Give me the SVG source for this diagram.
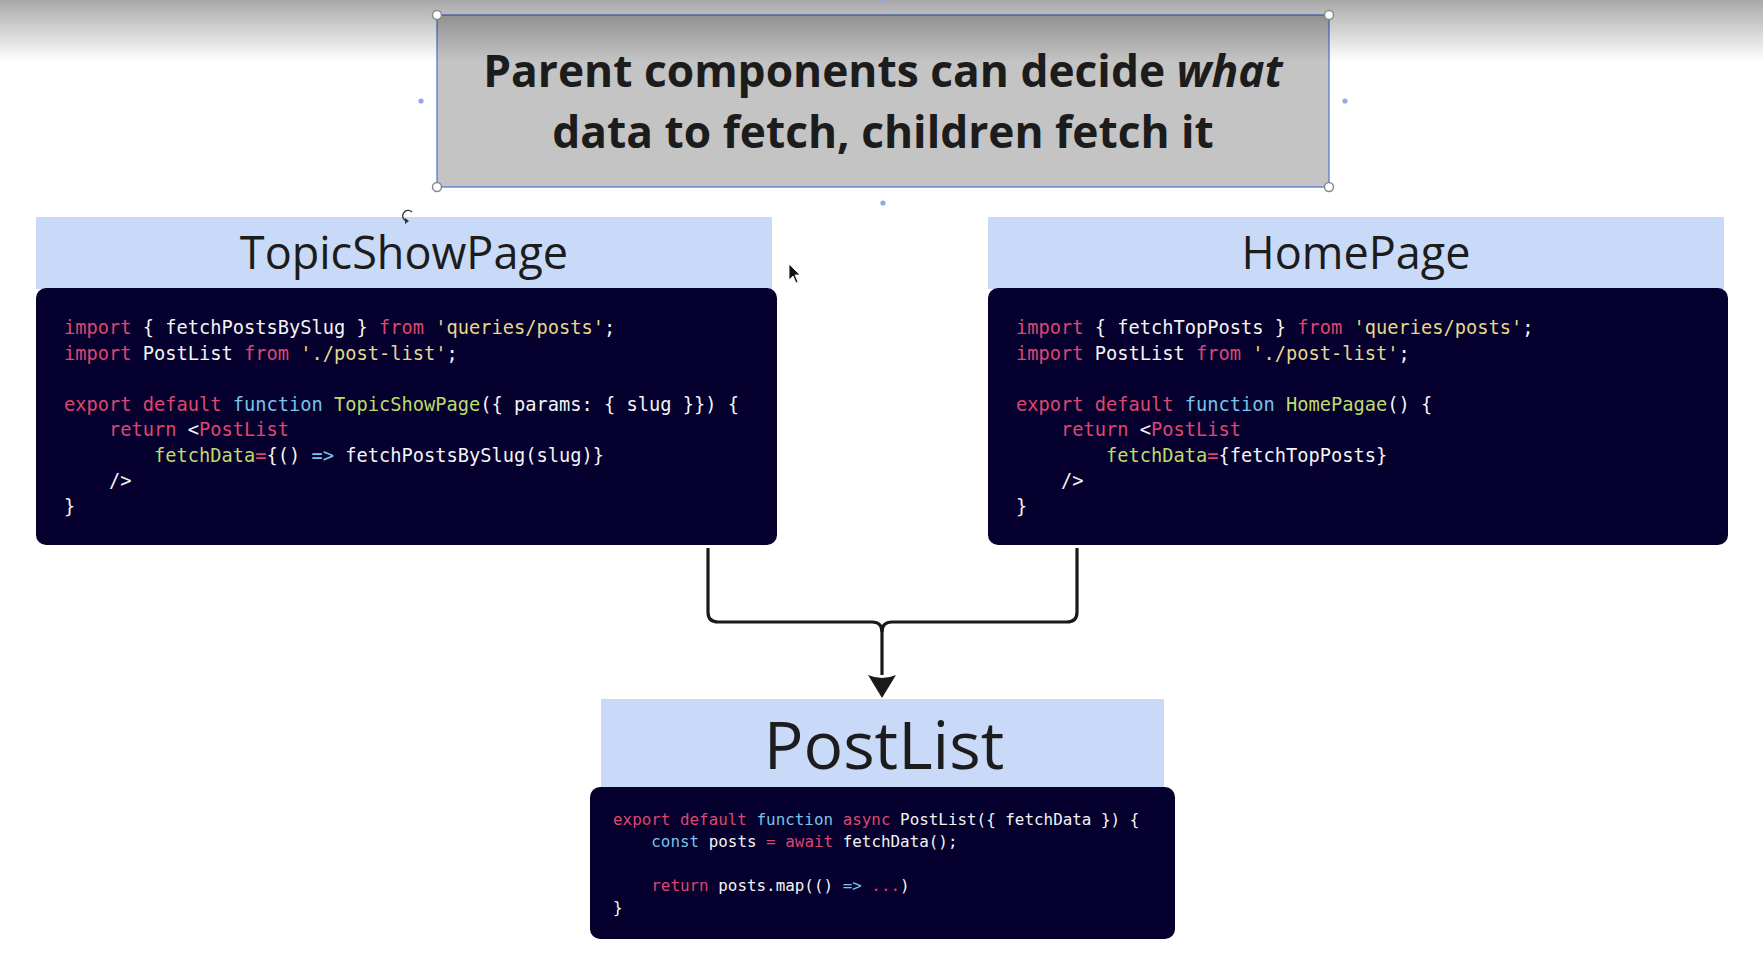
<svg xmlns="http://www.w3.org/2000/svg" width="1763" height="957" viewBox="0 0 1763 957">
<style>
.hdr{fill:#c9daf8}
.code{fill:#05002d}
.ht{font-family:"Open Sans","Noto Sans",sans-serif;fill:#1c1c1c;text-anchor:middle}
.mono{font-family:"DejaVu Sans Mono","Liberation Mono",monospace;fill:#f4f4f4}
.k{fill:#df4670}
.b{fill:#78c4ea}
.g{fill:#bfdc6a}
.s{fill:#e3d98c}
.conn{fill:none;stroke:#1a1a1a;stroke-width:3.2}
.handle{fill:#fff;stroke:#8a8a8a;stroke-width:1.5}
.dot{fill:#93aae8}
</style>
<defs>
<linearGradient id="topshade" x1="0" y1="0" x2="0" y2="1">
<stop offset="0" stop-color="#000" stop-opacity="0.34"/>
<stop offset="1" stop-color="#000" stop-opacity="0"/>
</linearGradient>
<marker id="arrow" markerUnits="userSpaceOnUse" viewBox="-1 -15 25 30" markerWidth="25" markerHeight="30" refX="0" refY="0" orient="auto">
<path d="M0,-14 Q6,0 0,14 L23,0 Z" fill="#1a1a1a"/>
</marker>
</defs>
<rect width="1763" height="957" fill="#ffffff"/>

<g id="title">
<rect x="437" y="15" width="892" height="172" fill="#c4c4c4" stroke="#4a72d0" stroke-width="1.2"/>
<text class="ht" x="883" y="87" font-size="44.3" font-weight="bold" fill="#1a1a1a">Parent components can decide <tspan font-style="italic">what</tspan></text>
<text class="ht" x="883" y="148" font-size="44.3" font-weight="bold" fill="#1a1a1a">data to fetch, children fetch it</text>
</g>

<rect x="0" y="0" width="1763" height="62" fill="url(#topshade)"/>

<g id="topicshowpage">
<rect class="hdr" x="36" y="217" width="736" height="72"/>
<text class="ht" x="404" y="269" font-size="45">TopicShowPage</text>
<rect class="code" x="36" y="288" width="741" height="257" rx="10"/>
<text class="mono" font-size="18.7" xml:space="preserve">
<tspan x="64" y="334"><tspan class="k">import</tspan> { fetchPostsBySlug } <tspan class="k">from</tspan> <tspan class="s">'queries/posts'</tspan>;</tspan>
<tspan x="64" y="359.5"><tspan class="k">import</tspan> PostList <tspan class="k">from</tspan> <tspan class="s">'./post-list'</tspan>;</tspan>
<tspan x="64" y="410.5"><tspan class="k">export default</tspan> <tspan class="b">function</tspan> <tspan class="g">TopicShowPage</tspan>({ params: { slug }}) {</tspan>
<tspan x="64" y="436">    <tspan class="k">return</tspan> &lt;<tspan class="k">PostList</tspan></tspan>
<tspan x="64" y="461.5">        <tspan class="g">fetchData</tspan><tspan class="k">=</tspan>{() <tspan class="b">=&gt;</tspan> fetchPostsBySlug(slug)}</tspan>
<tspan x="64" y="487">    /&gt;</tspan>
<tspan x="64" y="512.5">}</tspan>
</text>
</g>

<g id="homepage">
<rect class="hdr" x="988" y="217" width="736" height="72"/>
<text class="ht" x="1356" y="269" font-size="45">HomePage</text>
<rect class="code" x="988" y="288" width="740" height="257" rx="10"/>
<text class="mono" font-size="18.7" xml:space="preserve">
<tspan x="1016" y="334"><tspan class="k">import</tspan> { fetchTopPosts } <tspan class="k">from</tspan> <tspan class="s">'queries/posts'</tspan>;</tspan>
<tspan x="1016" y="359.5"><tspan class="k">import</tspan> PostList <tspan class="k">from</tspan> <tspan class="s">'./post-list'</tspan>;</tspan>
<tspan x="1016" y="410.5"><tspan class="k">export default</tspan> <tspan class="b">function</tspan> <tspan class="g">HomePagae</tspan>() {</tspan>
<tspan x="1016" y="436">    <tspan class="k">return</tspan> &lt;<tspan class="k">PostList</tspan></tspan>
<tspan x="1016" y="461.5">        <tspan class="g">fetchData</tspan><tspan class="k">=</tspan>{fetchTopPosts}</tspan>
<tspan x="1016" y="487">    /&gt;</tspan>
<tspan x="1016" y="512.5">}</tspan>
</text>
</g>

<g id="postlist">
<rect class="hdr" x="601" y="699" width="563" height="88"/>
<text class="ht" x="884" y="769" font-size="66">PostList</text>
<rect class="code" x="590" y="787" width="585" height="152" rx="10"/>
<text class="mono" font-size="15.9" xml:space="preserve">
<tspan x="613" y="825"><tspan class="k">export default</tspan> <tspan class="b">function</tspan> <tspan class="k">async</tspan> PostList({ fetchData }) {</tspan>
<tspan x="613" y="847">    <tspan class="b">const</tspan> posts <tspan class="k">=</tspan> <tspan class="k">await</tspan> fetchData();</tspan>
<tspan x="613" y="891">    <tspan class="k">return</tspan> posts.map(() <tspan class="b">=&gt;</tspan> <tspan class="k">...</tspan>)</tspan>
<tspan x="613" y="913">}</tspan>
</text>
</g>

<g id="connectors">
<path class="conn" d="M708,548 V612 Q708,622 718,622 H872 Q882,622 882,632 V675" marker-end="url(#arrow)"/>
<path class="conn" d="M1077,548 V612 Q1077,622 1067,622 H892 Q882,622 882,632"/>
</g>

<g id="selection">
<circle class="handle" cx="437" cy="15" r="4.5"/>
<circle class="handle" cx="1329" cy="15" r="4.5"/>
<circle class="handle" cx="437" cy="187" r="4.5"/>
<circle class="handle" cx="1329" cy="187" r="4.5"/>
<circle class="dot" cx="421" cy="101" r="2.6"/>
<circle class="dot" cx="1345" cy="101" r="2.6"/>
<circle class="dot" cx="883" cy="203" r="2.6"/>
<circle class="dot" cx="883" cy="0" r="2.6"/>
<path d="M412,212 A5.5,5.5 0 1 0 406,221" fill="none" stroke="#333" stroke-width="1.3"/>
<path d="M405,218 L409,221 L405,224 Z" fill="#333"/>
<path d="M789,264 L789,280 L793,276 L796,283 L798,282 L795,275 L800,275 Z" fill="#111" stroke="#fff" stroke-width="0.8"/>
</g>
</svg>
